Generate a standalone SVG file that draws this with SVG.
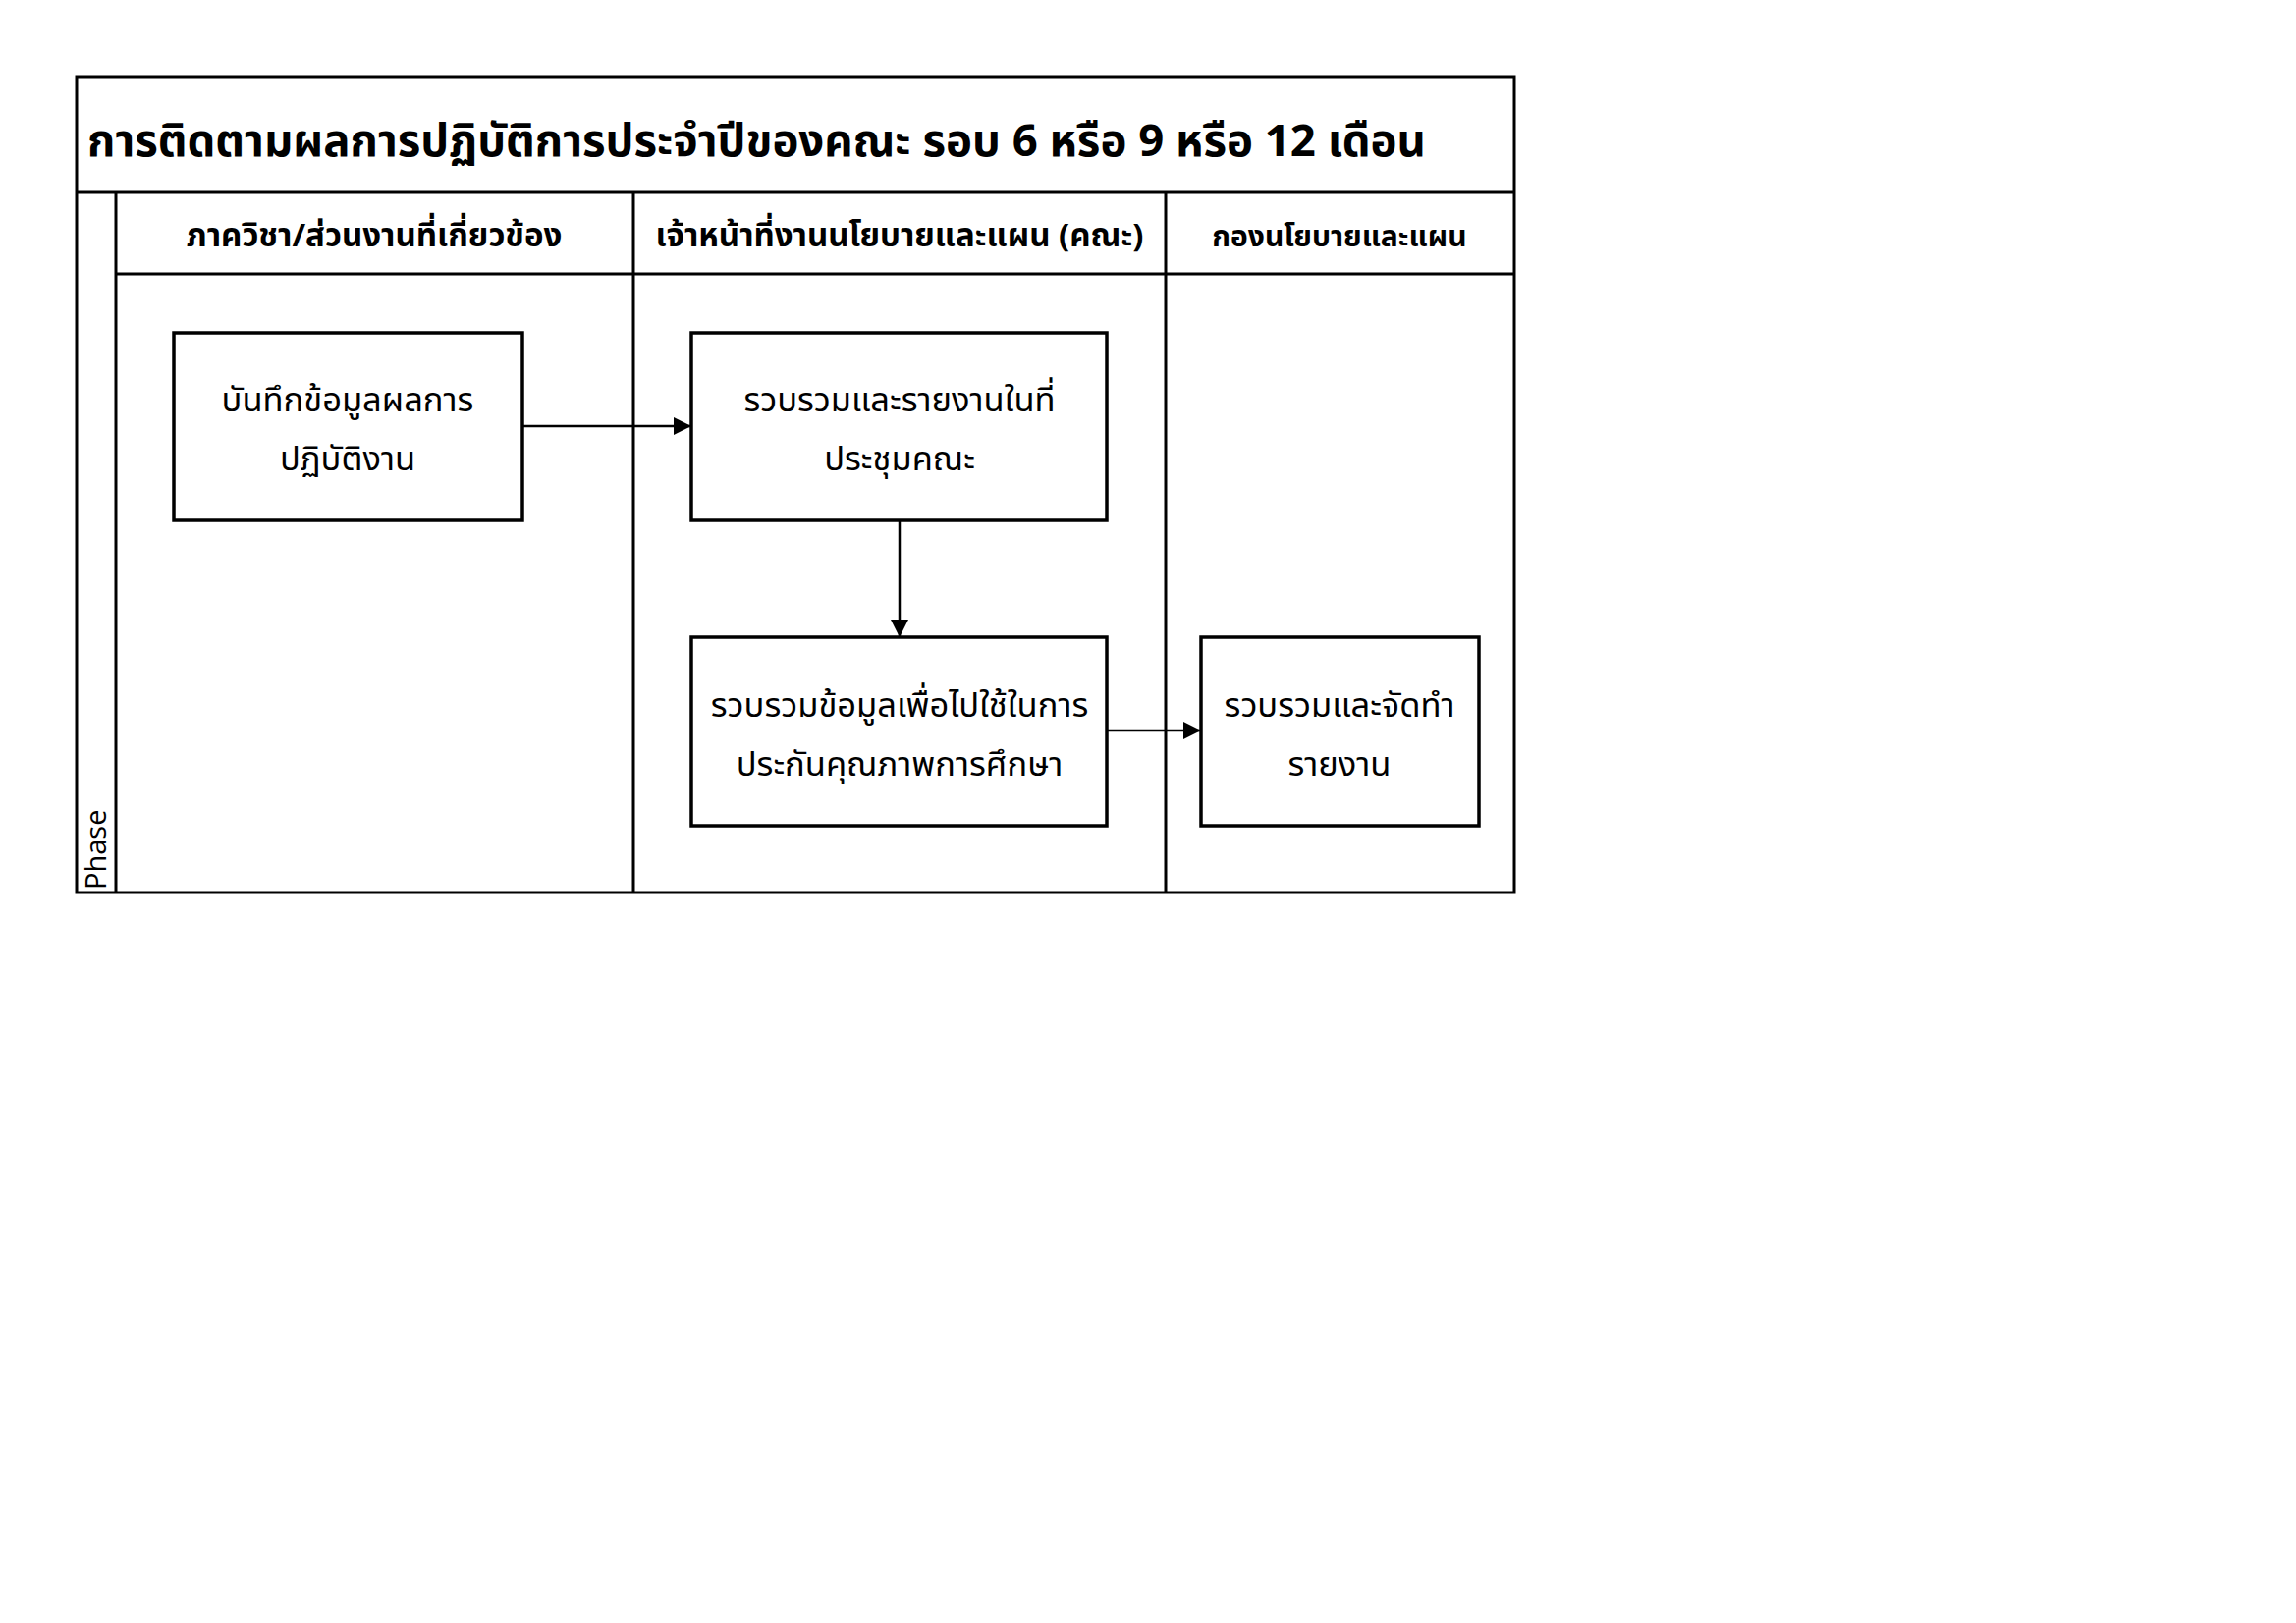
<svg xmlns="http://www.w3.org/2000/svg" width="2338" height="1653" viewBox="0 0 2338 1653">
<style>
.ln{stroke:#000;stroke-width:3;fill:none}
.bx{stroke:#000;stroke-width:3.5;fill:#fff}
.cn{stroke:#000;stroke-width:2.5;fill:none}
text{font-family:"Noto Sans Thai","Noto Sans","DejaVu Sans",sans-serif;fill:#000;text-anchor:middle}
.t{font-size:45.5px;font-weight:bold;text-anchor:start}
.h{font-size:33px;font-weight:bold}
.h3{font-size:30px;font-weight:bold}
.b{font-size:34.5px}
.p{font-size:29px}
</style>
<defs>
<marker id="a" viewBox="0 0 10 10" refX="10" refY="5" markerWidth="18" markerHeight="18" orient="auto" markerUnits="userSpaceOnUse">
<path d="M0,0 L10,5 L0,10 z" fill="#000"/>
</marker>
</defs>
<rect width="2338" height="1653" fill="#fff"/>
<g id="frame">
<rect class="ln" x="78" y="78" width="1464" height="831"/>
<line class="ln" x1="78" y1="196" x2="1542" y2="196"/>
<line class="ln" x1="118" y1="196" x2="118" y2="909"/>
<line class="ln" x1="118" y1="279" x2="1542" y2="279"/>
<line class="ln" x1="645" y1="196" x2="645" y2="909"/>
<line class="ln" x1="1187" y1="196" x2="1187" y2="909"/>
<text class="t" x="89" y="159">การติดตามผลการปฏิบัติการประจำปีของคณะ รอบ 6 หรือ 9 หรือ 12 เดือน</text>
<text class="h" x="381" y="251">ภาควิชา/ส่วนงานที่เกี่ยวข้อง</text>
<text class="h" x="916" y="251">เจ้าหน้าที่งานนโยบายและแผน (คณะ)</text>
<text class="h3" x="1364" y="251">กองนโยบายและแผน</text>
<text class="p" transform="translate(108,906) rotate(-90)" style="text-anchor:start;font-family:'Open Sans','Noto Sans',sans-serif">Phase</text>
</g>
<g id="connectors">
<line class="cn" x1="532" y1="434" x2="704" y2="434" marker-end="url(#a)"/>
<line class="cn" x1="916" y1="530" x2="916" y2="649" marker-end="url(#a)"/>
<line class="cn" x1="1127" y1="744" x2="1223" y2="744" marker-end="url(#a)"/>
</g>
<g id="n1">
<rect class="bx" x="177" y="339" width="355" height="191"/>
<text class="b" x="354" y="419">บันทึกข้อมูลผลการ</text>
<text class="b" x="354" y="479">ปฏิบัติงาน</text>
</g>
<g id="n2">
<rect class="bx" x="704" y="339" width="423" height="191"/>
<text class="b" x="916" y="419">รวบรวมและรายงานในที่</text>
<text class="b" x="916" y="479">ประชุมคณะ</text>
</g>
<g id="n3">
<rect class="bx" x="704" y="649" width="423" height="192"/>
<text class="b" x="916" y="730">รวบรวมข้อมูลเพื่อไปใช้ในการ</text>
<text class="b" x="916" y="790">ประกันคุณภาพการศึกษา</text>
</g>
<g id="n4">
<rect class="bx" x="1223" y="649" width="283" height="192"/>
<text class="b" x="1364" y="730">รวบรวมและจัดทำ</text>
<text class="b" x="1364" y="790">รายงาน</text>
</g>
</svg>
